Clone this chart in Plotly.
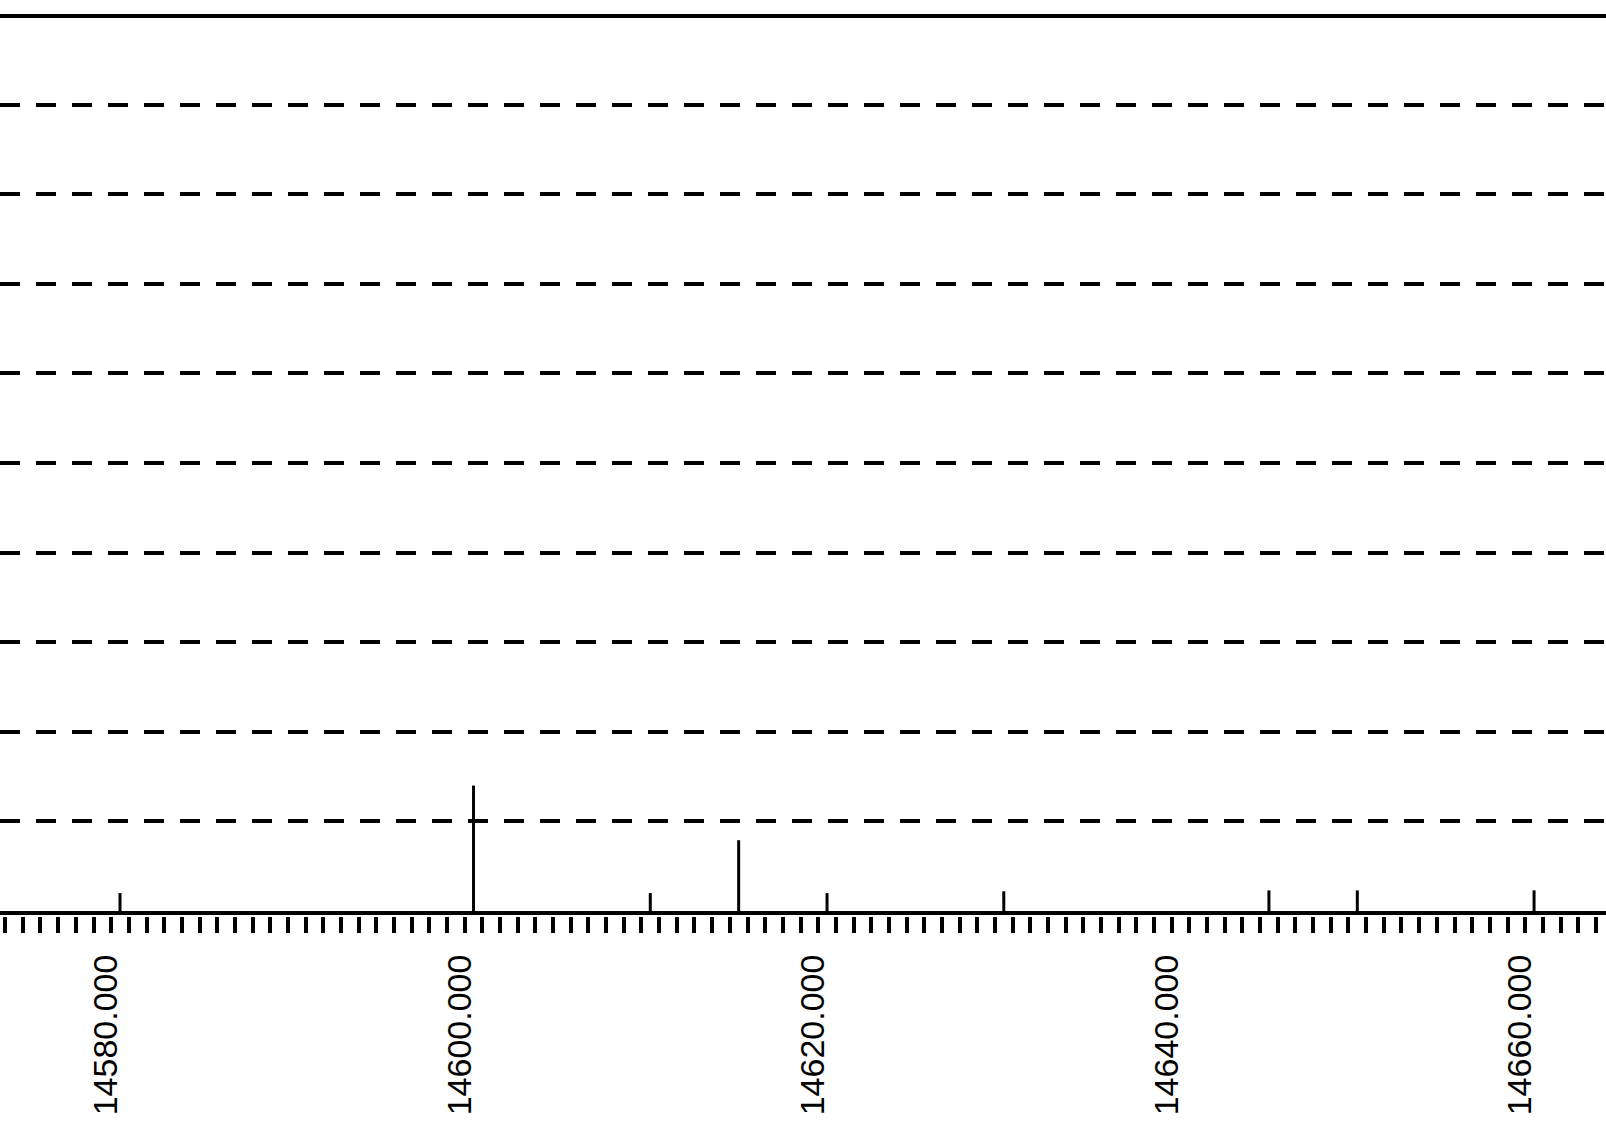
import plotly.graph_objects as go

# ---- data ----
freq = [14580, 14600, 14610, 14615, 14620, 14630, 14645, 14650, 14660]
intensity = [0.20, 1.40, 0.20, 0.79, 0.20, 0.22, 0.23, 0.23, 0.23]
tick_vals = [14580, 14600, 14620, 14640, 14660]
tick_labels = ["14580.000", "14600.000", "14620.000", "14640.000", "14660.000"]

x_range = [14573.21, 14664.07]
y_range = [0, 9.967]

W, H = 1606, 1121
mt, mb = 18, 0
plot_h = H - mt - mb
axis_px = 911          # y pixel of the baseline
ydom0 = (H - mb - axis_px) / plot_h
minor_pos = (H - mb - 916) / plot_h

# stems built from data
sx, sy = [], []
for f, v in zip(freq, intensity):
    sx += [f, f, None]
    sy += [0, v, None]

fig = go.Figure()
fig.add_trace(go.Scatter(x=sx, y=sy, mode="lines",
                         line=dict(color="black", width=3),
                         hoverinfo="skip", showlegend=False))
# invisible trace to carry the minor-tick axis
fig.add_trace(go.Scatter(x=freq, y=intensity, xaxis="x2", mode="markers",
                         marker=dict(opacity=0), hoverinfo="skip", showlegend=False))

font_family = "Liberation Sans Narrow, Liberation Sans, Arial, sans-serif"

fig.update_layout(
    width=W, height=H,
    margin=dict(l=0, r=0, t=mt, b=mb, pad=0),
    paper_bgcolor="white", plot_bgcolor="white",
    showlegend=False,
    xaxis=dict(range=x_range, tickvals=tick_vals, ticktext=tick_labels,
               tickangle=-90, ticks="", showgrid=False, zeroline=False,
               showline=True, linecolor="black", linewidth=4, mirror=True,
               tickfont=dict(family=font_family, size=34, color="black"),
               ticklabelstandoff=26, ticklabelshift=-14,
               automargin=False),
    xaxis2=dict(range=x_range, overlaying="x", anchor="free", position=minor_pos,
                tick0=0.5, dtick=1, ticks="outside", ticklen=16, tickwidth=4,
                tickcolor="black", showticklabels=False, showgrid=False,
                zeroline=False, showline=False, automargin=False),
    yaxis=dict(range=y_range, domain=[ydom0, 1], tick0=0, dtick=1,
               showticklabels=False, ticks="", zeroline=False,
               showgrid=True, gridcolor="black", gridwidth=4, griddash="20px,16px",
               showline=True, linecolor="#555", linewidth=1, automargin=False),
)

fig.write_html("out.html", config={"displayModeBar": False},
               post_script="document.body.style.margin='0';")
